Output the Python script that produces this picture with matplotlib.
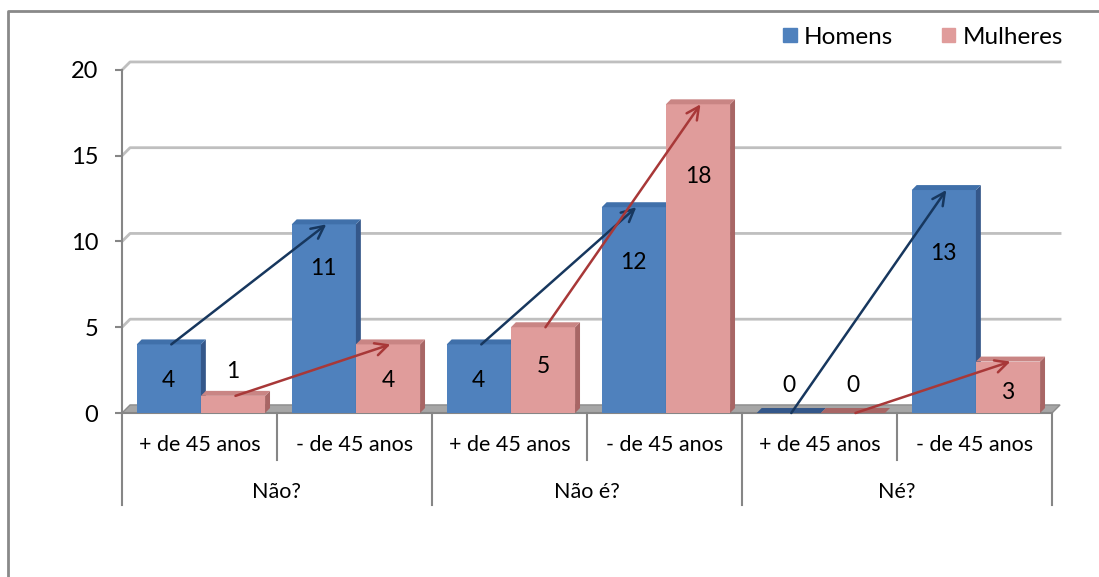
import matplotlib.pyplot as plt
from matplotlib.patches import Polygon, Patch
from matplotlib.lines import Line2D

plt.rcParams['font.family'] = ['Lato', 'DejaVu Sans']

# dados
categorias = ['+ de 45 anos', '- de 45 anos'] * 3
grupos = ['Não?', 'Não é?', 'Né?']
homens = [4, 11, 4, 12, 0, 13]
mulheres = [1, 4, 5, 18, 0, 3]

# altura onde fica o rótulo de cada barra
pos_rot_homens = [1.9, 8.4, 1.9, 8.8, 1.6, 9.3]
pos_rot_mulheres = [2.4, 1.9, 2.7, 13.8, 1.6, 1.2]

W, H = 1099, 577
fig = plt.figure(figsize=(W / 100, H / 100), dpi=100)
ax = fig.add_axes([122 / W, 1 - 413 / H, 930 / W, 343 / H])
ax.set_xlim(0, 6)
ax.set_ylim(0, 20)

cinza = '#868686'
dx, dy = 0.032, 0.29      # profundidade das barras
wx, wy = 0.052, 0.47      # profundidade da parede / piso

# linhas de grade na parede do fundo
for v in [5, 10, 15, 20]:
    ax.plot([0, wx, 6 + wx], [v, v + wy, v + wy], color='#BFBFBF', lw=2,
            zorder=1, clip_on=False)

# piso
ax.add_patch(Polygon([(0, 0), (6, 0), (6 + wx, wy), (wx, wy)], closed=True,
                     facecolor='#A6A6A6', edgecolor='#8C8C8C', lw=1,
                     zorder=2, clip_on=False))


def barra3d(x0, w, v, frente, lado, topo):
    if v > 0:
        ax.bar(x0, v, width=w, align='edge', color=frente, zorder=3)
        ax.add_patch(Polygon([(x0 + w, 0), (x0 + w + dx, dy),
                              (x0 + w + dx, v + dy), (x0 + w, v)],
                             closed=True, facecolor=lado, edgecolor='none',
                             zorder=3, clip_on=False))
        cor_topo = topo
    else:
        cor_topo = lado
    ax.add_patch(Polygon([(x0, v), (x0 + w, v), (x0 + w + dx, v + dy),
                          (x0 + dx, v + dy)], closed=True,
                         facecolor=cor_topo, edgecolor='none', zorder=3,
                         clip_on=False))


larg = 0.414
for i in range(6):
    barra3d(i + 0.095, larg, homens[i], '#4F81BD', '#34578A', '#4070AA')
    barra3d(i + 0.509, larg, mulheres[i], '#E09C9B', '#A86665', '#C98584')

# setas entre as faixas etárias
for g in range(3):
    a, b = 2 * g, 2 * g + 1
    ax.annotate('', xy=(b + 0.095 + larg / 2 + dx / 2, homens[b]),
                xytext=(a + 0.095 + larg / 2 + dx / 2, homens[a]),
                arrowprops=dict(arrowstyle='->,head_length=0.9,head_width=0.45',
                                color='#17375E', lw=1.8, shrinkA=0, shrinkB=0),
                zorder=5)
    ax.annotate('', xy=(b + 0.509 + larg / 2 + dx / 2, mulheres[b]),
                xytext=(a + 0.509 + larg / 2 + dx / 2, mulheres[a]),
                arrowprops=dict(arrowstyle='->,head_length=0.9,head_width=0.45',
                                color='#A83838', lw=1.8, shrinkA=0, shrinkB=0),
                zorder=5)

# rótulos de valor
for i in range(6):
    ax.text(i + 0.095 + larg / 2, pos_rot_homens[i], str(homens[i]),
            ha='center', va='center', fontsize=16.5, zorder=6)
    ax.text(i + 0.509 + larg / 2, pos_rot_mulheres[i], str(mulheres[i]),
            ha='center', va='center', fontsize=16.5, zorder=6)

# eixo x com categorias em dois níveis
for k in range(7):
    fim = -5.36 if k % 2 == 0 else -2.74
    ax.plot([k, k], [0, fim], color=cinza, lw=1.5, clip_on=False, zorder=2)
ax.plot([0, 6], [0, 0], color=cinza, lw=1.5, clip_on=False, zorder=2)
for i, c in enumerate(categorias):
    ax.text(i + 0.5, -1.87, c, ha='center', va='center', fontsize=15.5)
for g, nome in enumerate(grupos):
    ax.text(2 * g + 1, -4.6, nome, ha='center', va='center', fontsize=15.5)

# eixo y
for s in ['top', 'right', 'bottom']:
    ax.spines[s].set_visible(False)
ax.spines['left'].set_color(cinza)
ax.spines['left'].set_linewidth(1.5)
ax.set_xticks([])
ax.set_yticks(range(0, 21, 5))
ax.tick_params(axis='y', length=5, width=1.5, color=cinza, labelsize=17, pad=12)

# legenda
ax.legend(handles=[Patch(color='#4F81BD', label='Homens'),
                   Patch(color='#E09C9B', label='Mulheres')],
          loc='center right', bbox_to_anchor=(1063 / W, 1 - 37 / H),
          bbox_transform=fig.transFigure, ncol=2, frameon=False, fontsize=17.5,
          handlelength=0.55, handleheight=0.55, handletextpad=0.3,
          columnspacing=2.0, borderpad=0, borderaxespad=0)

# moldura
fig.add_artist(Line2D([8 / W, 8 / W, 1], [0, 1 - 11 / H, 1 - 11 / H],
                      transform=fig.transFigure, color='#898989', lw=2))

fig.savefig('out.png', dpi=100)
